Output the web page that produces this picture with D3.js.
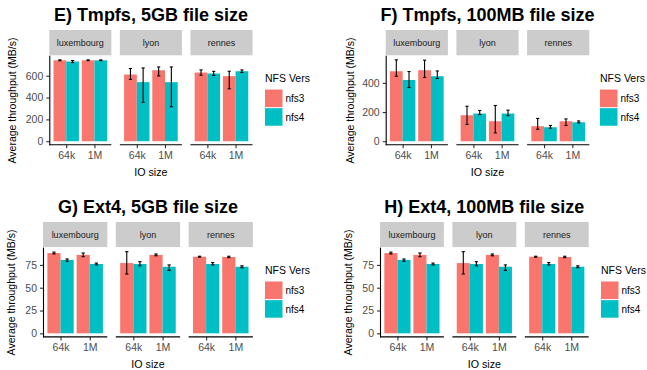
<!DOCTYPE html>
<html><head><meta charset="utf-8">
<script src="https://cdn.jsdelivr.net/npm/d3@7"></script>
<style>
body{margin:0;background:#fff}
svg{display:block;font-family:"Liberation Sans",Arial,Helvetica,sans-serif}
</style>
</head><body>
<svg id="c" width="647" height="370"></svg>
<script>
// ---------- data ----------
const sites = ["luxembourg", "lyon", "rennes"];
const ioSizes = ["64k", "1M"];
const versions = ["nfs3", "nfs4"];
// order of values: lux-64k, lux-1M, lyon-64k, lyon-1M, rennes-64k, rennes-1M

// E) Tmpfs, 5GB
const tmpfs5G_nfs3_mean = [741, 741, 611, 650, 629, 596];
const tmpfs5G_nfs3_lo   = [737, 738, 566, 598, 605, 480];
const tmpfs5G_nfs3_hi   = [745, 745, 666, 680, 653, 641];
const tmpfs5G_nfs4_mean = [730, 741, 541, 541, 620, 641];
const tmpfs5G_nfs4_lo   = [720, 738, 356, 316, 603, 630];
const tmpfs5G_nfs4_hi   = [739, 745, 671, 680, 640, 653];
const tmpfs5G_ticks = [0, 200, 400, 600];

// F) Tmpfs, 100MB
const tmpfs100M_nfs3_mean = [480, 487, 178, 137, 103, 137];
const tmpfs100M_nfs3_lo   = [446, 437, 115, 57, 82, 108];
const tmpfs100M_nfs3_hi   = [558, 556, 240, 245, 156, 153];
const tmpfs100M_nfs4_mean = [420, 446, 190, 190, 96, 130];
const tmpfs100M_nfs4_lo   = [368, 430, 183, 176, 89, 126];
const tmpfs100M_nfs4_hi   = [478, 482, 211, 213, 108, 139];
const tmpfs100M_ticks = [0, 200, 400];

// G) Ext4, 5GB
const ext45G_nfs3_mean = [88, 86, 77, 86, 84, 83.7];
const ext45G_nfs3_lo   = [87, 84, 65, 85, 83.5, 83];
const ext45G_nfs3_hi   = [89, 88, 89.5, 87, 84.5, 84.5];
const ext45G_nfs4_mean = [80.5, 76, 76, 73, 76, 73];
const ext45G_nfs4_lo   = [79, 75, 74, 69, 75, 72];
const ext45G_nfs4_hi   = [81.5, 77, 78.5, 75, 77.5, 74];
const ext45G_ticks = [0, 25, 50, 75];

// H) Ext4, 100MB
const ext4100M_nfs3_mean = [88, 86, 77, 86, 84, 83.7];
const ext4100M_nfs3_lo   = [87, 84, 65, 85, 83.5, 83];
const ext4100M_nfs3_hi   = [89, 88, 89.5, 87, 84.5, 84.5];
const ext4100M_nfs4_mean = [80.5, 76, 76, 73, 76, 73];
const ext4100M_nfs4_lo   = [79, 75, 74, 69, 75, 72];
const ext4100M_nfs4_hi   = [81.5, 77, 78.5, 75, 77.5, 74];
const ext4100M_ticks = [0, 25, 50, 75];

const colors = {nfs3: "#F8766D", nfs4: "#00BFC4"};

// ---------- layout ----------
const charts = [
  {title: "E) Tmpfs, 5GB file size", ticks: tmpfs5G_ticks,
   s: {nfs3: [tmpfs5G_nfs3_mean, tmpfs5G_nfs3_lo, tmpfs5G_nfs3_hi], nfs4: [tmpfs5G_nfs4_mean, tmpfs5G_nfs4_lo, tmpfs5G_nfs4_hi]},
   x0: 49.3, x1: 252.5, stripTop: 30, top: 55.8, bottom: 145.3, legendX: 265, ylabX: 12.7},
  {title: "F) Tmpfs, 100MB file size", ticks: tmpfs100M_ticks,
   s: {nfs3: [tmpfs100M_nfs3_mean, tmpfs100M_nfs3_lo, tmpfs100M_nfs3_hi], nfs4: [tmpfs100M_nfs4_mean, tmpfs100M_nfs4_lo, tmpfs100M_nfs4_hi]},
   x0: 385.7, x1: 589.3, stripTop: 30, top: 55.8, bottom: 145.3, legendX: 600, ylabX: 350},
  {title: "G) Ext4, 5GB file size", ticks: ext45G_ticks,
   s: {nfs3: [ext45G_nfs3_mean, ext45G_nfs3_lo, ext45G_nfs3_hi], nfs4: [ext45G_nfs4_mean, ext45G_nfs4_lo, ext45G_nfs4_hi]},
   x0: 43, x1: 252.9, stripTop: 222, top: 247.6, bottom: 337.4, legendX: 265, ylabX: 11.7},
  {title: "H) Ext4, 100MB file size", ticks: ext4100M_ticks,
   s: {nfs3: [ext4100M_nfs3_mean, ext4100M_nfs3_lo, ext4100M_nfs3_hi], nfs4: [ext4100M_nfs4_mean, ext4100M_nfs4_lo, ext4100M_nfs4_hi]},
   x0: 380, x1: 588.7, stripTop: 222, top: 247.6, bottom: 337.4, legendX: 601, ylabX: 348.3}
];

const svg = d3.select("#c");
svg.append("rect").attr("width", 647).attr("height", 370).attr("fill", "#fff");

charts.forEach(cfg => {
  const g = svg.append("g");
  const gap = 8.5;
  const R = cfg.x1 - cfg.x0;
  const facetX = d3.scaleBand().domain(sites).range([cfg.x0, cfg.x1])
    .paddingInner(3 * gap / (R + gap)).paddingOuter(0);
  const w = facetX.bandwidth();
  const ioX = d3.scaleBand().domain(ioSizes).range([0, w]).paddingInner(0.1).paddingOuter(0.15);
  const verX = d3.scaleBand().domain(versions).range([0, ioX.bandwidth()]).padding(0);

  const ymax = d3.max(versions.flatMap(v => cfg.s[v][2]));
  const y = d3.scaleLinear().domain([-0.05 * ymax, 1.05 * ymax]).range([cfg.bottom, cfg.top]);

  // title
  g.append("text").attr("x", (cfg.x0 + cfg.x1) / 2).attr("y", cfg.stripTop - 8.6)
    .attr("text-anchor", "middle").attr("font-size", 18).attr("font-weight", "bold")
    .attr("fill", "#000").text(cfg.title);

  // rows
  const rows = [];
  sites.forEach((site, si) => ioSizes.forEach((io, ii) => versions.forEach(v => {
    const idx = si * 2 + ii;
    rows.push({site, io, v, mean: cfg.s[v][0][idx], lo: cfg.s[v][1][idx], hi: cfg.s[v][2][idx]});
  })));

  sites.forEach(site => {
    const fx = facetX(site);
    const fg = g.append("g").attr("transform", `translate(${fx},0)`);
    // strip
    fg.append("rect").attr("x", 0).attr("y", cfg.stripTop).attr("width", w)
      .attr("height", cfg.top - cfg.stripTop - 0.5).attr("fill", "#cccccc");
    fg.append("text").attr("x", w / 2).attr("y", (cfg.stripTop + cfg.top) / 2 + 3)
      .attr("text-anchor", "middle").attr("font-size", 9).attr("fill", "#1a1a1a").text(site);

    const fr = rows.filter(r => r.site === site);
    // bars
    fg.selectAll("rect.bar").data(fr).join("rect").attr("class", "bar")
      .attr("x", d => ioX(d.io) + verX(d.v)).attr("width", verX.bandwidth())
      .attr("y", d => y(d.mean)).attr("height", d => y(0) - y(d.mean))
      .attr("fill", d => colors[d.v]);
    // error bars
    const cap = verX.bandwidth() * 0.25;
    const eb = fg.selectAll("g.eb").data(fr).join("g").attr("class", "eb")
      .attr("transform", d => `translate(${ioX(d.io) + verX(d.v) + verX.bandwidth() / 2},0)`);
    eb.append("line").attr("x1", 0).attr("x2", 0).attr("y1", d => y(d.lo)).attr("y2", d => y(d.hi))
      .attr("stroke", "#000").attr("stroke-width", 1.1);
    eb.append("line").attr("x1", -cap / 2).attr("x2", cap / 2).attr("y1", d => y(d.lo)).attr("y2", d => y(d.lo))
      .attr("stroke", "#000").attr("stroke-width", 1.1);
    eb.append("line").attr("x1", -cap / 2).attr("x2", cap / 2).attr("y1", d => y(d.hi)).attr("y2", d => y(d.hi))
      .attr("stroke", "#000").attr("stroke-width", 1.1);

    // x axis
    const xa = fg.append("g").attr("transform", `translate(0,${cfg.bottom - 0.5})`)
      .call(d3.axisBottom(d3.scalePoint().domain(ioSizes).range([ioX("64k") + ioX.bandwidth() / 2, ioX("1M") + ioX.bandwidth() / 2]))
        .tickSize(3.5).tickPadding(3));
    xa.select(".domain").remove();
    xa.append("line").attr("x1", 0).attr("x2", w).attr("stroke", "#000").attr("stroke-width", 1.1);
    xa.selectAll(".tick line").attr("stroke", "#333").attr("stroke-width", 1.1);
    xa.selectAll(".tick text").attr("font-size", 10.5).attr("fill", "#4d4d4d")
      .attr("font-family", "Liberation Sans, Arial, sans-serif");
  });

  // y axis
  const ya = g.append("g").attr("transform", `translate(${cfg.x0 + 0.5},0)`)
    .call(d3.axisLeft(y).tickValues(cfg.ticks).tickSize(3.5).tickPadding(3).tickFormat(d3.format("d")));
  ya.select(".domain").remove();
  ya.append("line").attr("y1", cfg.top).attr("y2", cfg.bottom).attr("stroke", "#000").attr("stroke-width", 1.1);
  ya.selectAll(".tick line").attr("stroke", "#333").attr("stroke-width", 1.1);
  ya.selectAll(".tick text").attr("font-size", 10.5).attr("fill", "#4d4d4d")
    .attr("font-family", "Liberation Sans, Arial, sans-serif");

  // axis titles
  g.append("text").attr("x", (cfg.x0 + cfg.x1) / 2).attr("y", cfg.bottom + 30.3)
    .attr("text-anchor", "middle").attr("font-size", 10.7).attr("fill", "#000").text("IO size");
  const pc = (cfg.top + cfg.bottom) / 2;
  g.append("text").attr("transform", `translate(${cfg.ylabX + 3.7},${pc}) rotate(-90)`)
    .attr("text-anchor", "middle").attr("font-size", 10.5).attr("fill", "#000").text("Average throughput (MB/s)");

  // legend
  const lg = g.append("g").attr("transform", `translate(${cfg.legendX},${pc})`);
  lg.append("text").attr("x", 0).attr("y", -22.3 + 3.8).attr("font-size", 10.5).attr("fill", "#000").text("NFS Vers");
  versions.forEach((v, i) => {
    lg.append("rect").attr("x", 0).attr("y", -11 + i * 18.6).attr("width", 17.5).attr("height", 17.6)
      .attr("fill", colors[v]);
    lg.append("text").attr("x", 20.5).attr("y", -11 + i * 18.6 + 8.8 + 3.6).attr("font-size", 10)
      .attr("fill", "#000").text(v);
  });
});
</script>
</body></html>
